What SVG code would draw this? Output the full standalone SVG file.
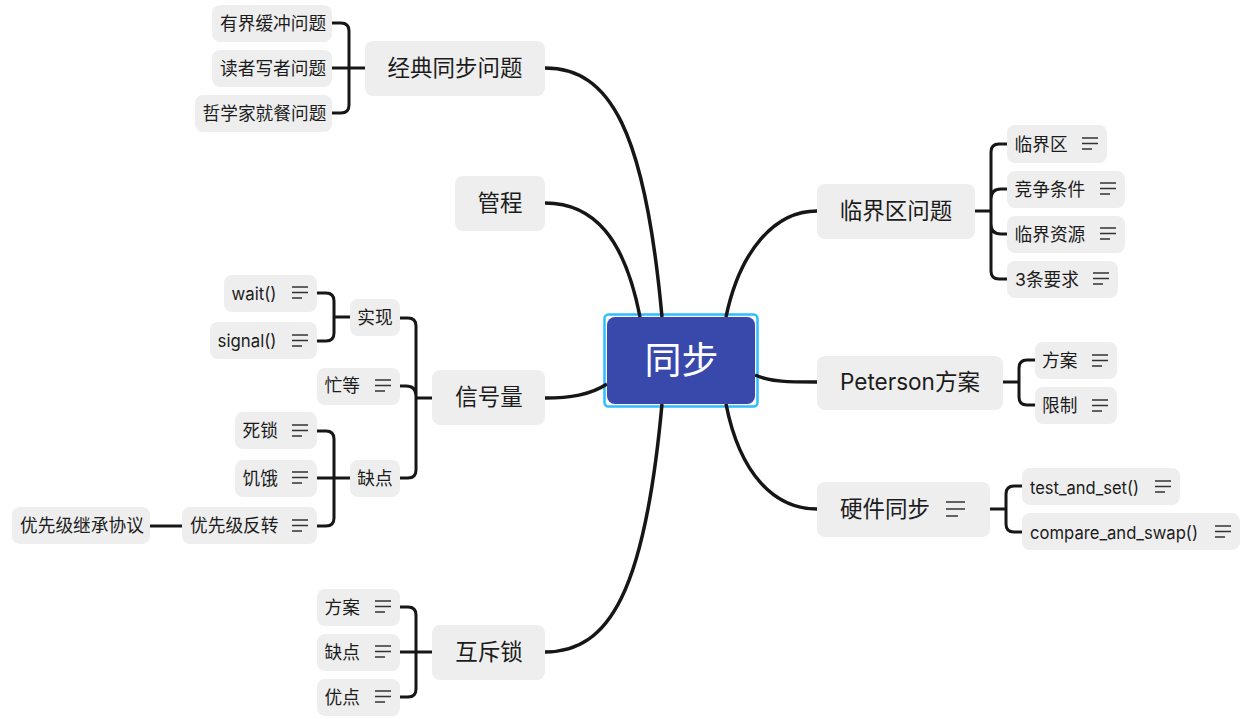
<svg xmlns="http://www.w3.org/2000/svg" width="1254" height="719" viewBox="0 0 1254 719">
<style>
text{font-family:"Inter","Noto Sans CJK SC",sans-serif;fill:#1c1c1c}
.n rect{fill:#eeeeee}
.s{font-size:17.7px}
.b{font-size:22.5px}
.r{font-size:37px;fill:#fff}
.c path{fill:none;stroke:#161616;stroke-width:3}
.c .m{stroke-width:3.5}
.i path{fill:none;stroke:#333;stroke-width:1.6}
</style>
<defs>
<g id="ic" class="i"><path d="M0 0H16M0 5.500H16M0 11H10"/></g>
<g id="icb" class="i"><path d="M0 0H19M0 7H19M0 14H12"/></g>
</defs>
<rect width="1254" height="719" fill="#fff"/>
<g id="root-selection"><rect x="604.500" y="314.500" width="153" height="92" rx="4" fill="#fff" stroke="#2ebdff" stroke-width="2.500"/></g>
<g id="connectors" class="c">
<path class="m" d="M545 68C610 68 645 130 662 317"/>
<path class="m" d="M545 203C595 203 625 240 640 317"/>
<path class="m" d="M545 398C570 398 590 395 607 384"/>
<path class="m" d="M545 652C610 652 645 590 662 404"/>
<path class="m" d="M817 211C775 211 740 250 726 317"/>
<path class="m" d="M817 382C790 382 770 382 755 375"/>
<path class="m" d="M817 509C775 509 740 475 726 404"/>
<path d="M332 23H341Q349 23 349 31V105Q349 113 341 113H332M332 68H365"/>
<path d="M317 293H326Q334 293 334 301V333Q334 341 326 341H317M334 317H350"/>
<path d="M400 318H408Q416 318 416 326V470Q416 478 408 478H400M400 386H406Q416 386 416 396M416 398H432"/>
<path d="M317 431H326Q334 431 334 439V518Q334 526 326 526H317M317 478H350"/>
<path d="M150 526H182"/>
<path d="M400 607H408Q416 607 416 615V689Q416 697 408 697H400M400 652H432"/>
<path d="M975 211H991M1007 144H999Q991 144 991 152V271Q991 279 999 279H1007M1007 189H1001Q991 189 991 199M1007 234H1001Q991 234 991 224"/>
<path d="M1003 382H1019M1035 360H1027Q1019 360 1019 368V397Q1019 405 1027 405H1035"/>
<path d="M990 509H1006M1022 486H1014Q1006 486 1006 494V524Q1006 532 1014 532H1022"/>
</g>
<g id="root"><rect x="607" y="317" width="148" height="87" rx="8" fill="#3949ab"/><text class="r" x="681.500" y="374" text-anchor="middle">同步</text></g>
<g id="n1" class="n"><rect x="365" y="41" width="180" height="55" rx="8"/><text class="b" x="455" y="76" text-anchor="middle">经典同步问题</text></g>
<g id="n1a" class="n"><rect x="212" y="5" width="120" height="37" rx="8"/><text class="s" x="220" y="30">有界缓冲问题</text></g>
<g id="n1b" class="n"><rect x="212" y="50" width="120" height="37" rx="8"/><text class="s" x="220" y="75">读者写者问题</text></g>
<g id="n1c" class="n"><rect x="195" y="95" width="137" height="37" rx="8"/><text class="s" x="202.500" y="120">哲学家就餐问题</text></g>
<g id="n2" class="n"><rect x="455" y="176" width="90" height="55" rx="8"/><text class="b" x="500" y="211" text-anchor="middle">管程</text></g>
<g id="n3" class="n"><rect x="432" y="370" width="113" height="55" rx="8"/><text class="b" x="489" y="405" text-anchor="middle">信号量</text></g>
<g id="n3a" class="n"><rect x="350" y="299" width="50" height="37" rx="8"/><text class="s" x="375" y="324" text-anchor="middle">实现</text></g>
<g id="n3a1" class="n"><rect x="224" y="275" width="93" height="37" rx="8"/><text class="s" x="231.500" y="300" textLength="45" lengthAdjust="spacingAndGlyphs">wait()</text><use href="#ic" x="292" y="287"/></g>
<g id="n3a2" class="n"><rect x="210" y="322" width="107" height="37" rx="8"/><text class="s" x="217.500" y="347" textLength="59" lengthAdjust="spacingAndGlyphs">signal()</text><use href="#ic" x="292" y="335"/></g>
<g id="n3b" class="n"><rect x="317" y="368" width="83" height="37" rx="8"/><text class="s" x="324.500" y="392">忙等</text><use href="#ic" x="375" y="380"/></g>
<g id="n3c" class="n"><rect x="350" y="460" width="50" height="37" rx="8"/><text class="s" x="375" y="485" text-anchor="middle">缺点</text></g>
<g id="n3c1" class="n"><rect x="235" y="412" width="82" height="37" rx="8"/><text class="s" x="242.500" y="437">死锁</text><use href="#ic" x="292" y="425"/></g>
<g id="n3c2" class="n"><rect x="235" y="460" width="82" height="37" rx="8"/><text class="s" x="242.500" y="485">饥饿</text><use href="#ic" x="292" y="472"/></g>
<g id="n3c3" class="n"><rect x="182" y="507" width="135" height="37" rx="8"/><text class="s" x="190" y="532">优先级反转</text><use href="#ic" x="292" y="520"/></g>
<g id="n3c4" class="n"><rect x="12" y="507" width="138" height="37" rx="8"/><text class="s" x="20" y="532">优先级继承协议</text></g>
<g id="n4" class="n"><rect x="432" y="625" width="113" height="55" rx="8"/><text class="b" x="489" y="660" text-anchor="middle">互斥锁</text></g>
<g id="n4a" class="n"><rect x="317" y="589" width="83" height="37" rx="8"/><text class="s" x="324.500" y="614">方案</text><use href="#ic" x="375" y="601"/></g>
<g id="n4b" class="n"><rect x="317" y="634" width="83" height="37" rx="8"/><text class="s" x="324.500" y="659">缺点</text><use href="#ic" x="375" y="646"/></g>
<g id="n4c" class="n"><rect x="317" y="679" width="83" height="37" rx="8"/><text class="s" x="324.500" y="704">优点</text><use href="#ic" x="375" y="691"/></g>
<g id="n5" class="n"><rect x="817" y="184" width="158" height="55" rx="8"/><text class="b" x="896" y="219" text-anchor="middle">临界区问题</text></g>
<g id="n5a" class="n"><rect x="1007" y="125" width="100" height="38" rx="8"/><text class="s" x="1014.500" y="151">临界区</text><use href="#ic" x="1082" y="138"/></g>
<g id="n5b" class="n"><rect x="1007" y="171" width="118" height="37" rx="8"/><text class="s" x="1014.500" y="196">竞争条件</text><use href="#ic" x="1100" y="183"/></g>
<g id="n5c" class="n"><rect x="1007" y="216" width="118" height="37" rx="8"/><text class="s" x="1014.500" y="241">临界资源</text><use href="#ic" x="1100" y="228"/></g>
<g id="n5d" class="n"><rect x="1007" y="261" width="111" height="37" rx="8"/><text class="s" x="1015" y="286" textLength="64">3条要求</text><use href="#ic" x="1093" y="273"/></g>
<g id="n6" class="n"><rect x="817" y="356" width="186" height="54" rx="8"/><text class="b" x="840" y="390" textLength="140" lengthAdjust="spacingAndGlyphs">Peterson方案</text></g>
<g id="n6a" class="n"><rect x="1035" y="342" width="82" height="37" rx="8"/><text class="s" x="1042" y="367">方案</text><use href="#ic" x="1092" y="355"/></g>
<g id="n6b" class="n"><rect x="1035" y="387" width="82" height="37" rx="8"/><text class="s" x="1042" y="412">限制</text><use href="#ic" x="1092" y="400"/></g>
<g id="n7" class="n"><rect x="817" y="482" width="173" height="55" rx="8"/><text class="b" x="840" y="517">硬件同步</text><use href="#icb" x="946" y="502"/></g>
<g id="n7a" class="n"><rect x="1022" y="468" width="158" height="37" rx="8"/><text class="s" x="1030" y="494" textLength="109" lengthAdjust="spacingAndGlyphs">test_and_set()</text><use href="#ic" x="1155" y="481"/></g>
<g id="n7b" class="n"><rect x="1022" y="513" width="218" height="37" rx="8"/><text class="s" x="1030" y="539" textLength="168" lengthAdjust="spacingAndGlyphs">compare_and_swap()</text><use href="#ic" x="1215" y="526"/></g>
</svg>
